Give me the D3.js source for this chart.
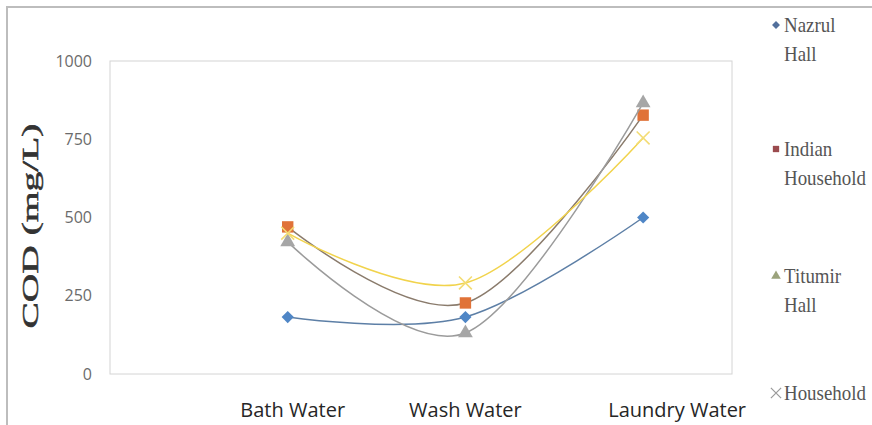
<!DOCTYPE html>
<html>
<head>
<meta charset="utf-8">
<script src="https://cdn.jsdelivr.net/npm/d3@7"></script>
<style>
  body { margin: 0; background: #fff; }
  svg { display: block; }
</style>
</head>
<body>
<script>
// chart values
const categories = ["Bath Water", "Wash Water", "Laundry Water"];
const nazrulHall = [182, 182, 500];
const indianHousehold = [470, 227, 827];
const titumirHall = [422, 131, 866];
const household = [450, 291, 754];
const yTicks = [0, 250, 500, 750, 1000];
const legendLines = [["Nazrul", "Hall"], ["Indian", "Household"], ["Titumir", "Hall"], ["Household"]];

let width = 872, height = 425;

// plot area
let plotLeft = 110, plotRight = 732, plotTop = 61, plotBottom = 374;

let x = d3.scaleLinear().domain([0, 3.5]).range([plotLeft, plotRight]);
let y = d3.scaleLinear().domain([0, 1000]).range([plotBottom, plotTop]);

let series = [
    { values: nazrulHall, symbol: d3.symbolDiamond2, size: 95, fill: "#4f86c6", line: "#5d7fa6", legendFill: "#52709c" },
    { values: indianHousehold, symbol: d3.symbolSquare, size: 130, fill: "#e07238", line: "#8a7b6c", legendFill: "#9b4b4e" },
    { values: titumirHall, symbol: d3.symbolTriangle, size: 95, fill: "#a6a6a6", line: "#9b9b9b", legendFill: "#9ba37c" },
    { values: household, symbol: d3.symbolX, size: 110, fill: "none", line: "#f1d34c", legendFill: "#9a9a9a" }
];

let svg = d3.select("body")
    .append("svg")
    .attr("width", width)
    .attr("height", height);

// outer frame (top and left edges only are visible)
svg.append("path")
    .attr("d", `M7,${height} L7,7 L${width},7`)
    .attr("fill", "none")
    .attr("stroke", "#bdbdbd")
    .attr("stroke-width", 2);

// plot area border
svg.append("rect")
    .attr("x", plotLeft)
    .attr("y", plotTop)
    .attr("width", plotRight - plotLeft)
    .attr("height", plotBottom - plotTop)
    .attr("fill", "none")
    .attr("stroke", "#d4d4d4")
    .attr("stroke-width", 1);

// y axis labels
let yAxis = svg.append("g")
    .attr("transform", `translate(${plotLeft - 18},0)`)
    .call(d3.axisLeft(y).tickValues(yTicks).tickFormat(d3.format("d")).tickSize(0).tickPadding(0));
yAxis.select(".domain").remove();
yAxis.selectAll("text")
    .attr("font-family", "'Open Sans', sans-serif")
    .attr("font-size", 16)
    .attr("fill", "#6b6b6b");

// y axis title
svg.append("text")
    .attr("transform", "translate(38,226) rotate(-90)")
    .attr("text-anchor", "middle")
    .attr("font-family", "'Liberation Serif', 'Times New Roman', serif")
    .attr("font-size", 24)
    .attr("fill", "#333")
    .attr("stroke", "#333")
    .attr("stroke-width", 0.5)
    .attr("textLength", 205)
    .attr("lengthAdjust", "spacingAndGlyphs")
    .text("COD (mg/L)");

// category labels (placed as text boxes, a bit off their points)
let labelShift = [5, 0, 34];
svg.append("g")
    .selectAll("text")
    .data(categories)
    .join("text")
    .attr("x", (d, i) => x(i + 1) + labelShift[i])
    .attr("y", 417)
    .attr("text-anchor", "middle")
    .attr("font-family", "'Open Sans', sans-serif")
    .attr("font-size", 20)
    .attr("fill", "#262626")
    .text(d => d);

// smoothed lines, like Excel's "smoothed line"
let line = d3.line()
    .x((d, i) => x(i + 1))
    .y(d => y(d))
    .curve(d3.curveCatmullRom.alpha(0));

let seriesGroup = svg.append("g")
    .selectAll("g")
    .data(series)
    .join("g");

seriesGroup.append("path")
    .attr("d", d => line(d.values))
    .attr("fill", "none")
    .attr("stroke", d => d.line)
    .attr("stroke-width", 1.5);

seriesGroup.selectAll(".pt")
    .data(d => d.values.map((v, i) => ({ v: v, i: i, s: d })))
    .join("path")
    .attr("class", "pt")
    .attr("transform", d => `translate(${x(d.i + 1)},${y(d.v)})`)
    .attr("d", d => d3.symbol().type(d.s.symbol).size(d.s.size)())
    .attr("fill", d => d.s.symbol === d3.symbolX ? "none" : d.s.fill)
    .attr("stroke", d => d.s.symbol === d3.symbolX ? "#f3dc74" : "none")
    .attr("stroke-width", 1.6);

// legend
let legendTop = [32, 156, 283, 400];
let legend = svg.append("g")
    .selectAll("g")
    .data(series)
    .join("g")
    .attr("transform", (d, i) => `translate(776,${legendTop[i]})`);

legend.append("path")
    .attr("transform", "translate(0,-7)")
    .attr("d", d => d3.symbol().type(d.symbol).size(d.symbol === d3.symbolX ? 70 : 40)())
    .attr("fill", d => d.symbol === d3.symbolX ? "none" : d.legendFill)
    .attr("stroke", d => d.symbol === d3.symbolX ? d.legendFill : "none")
    .attr("stroke-width", 1.2);

legend.each(function (d, i) {
    let g = d3.select(this);
    legendLines[i].forEach((t, j) => {
        g.append("text")
            .attr("transform", `translate(8,${j * 29}) scale(0.86,1)`)
            .attr("font-family", "'Liberation Serif', 'Times New Roman', serif")
            .attr("font-size", 22)
            .attr("fill", "#555")
            .text(t);
    });
});
</script>
</body>
</html>
